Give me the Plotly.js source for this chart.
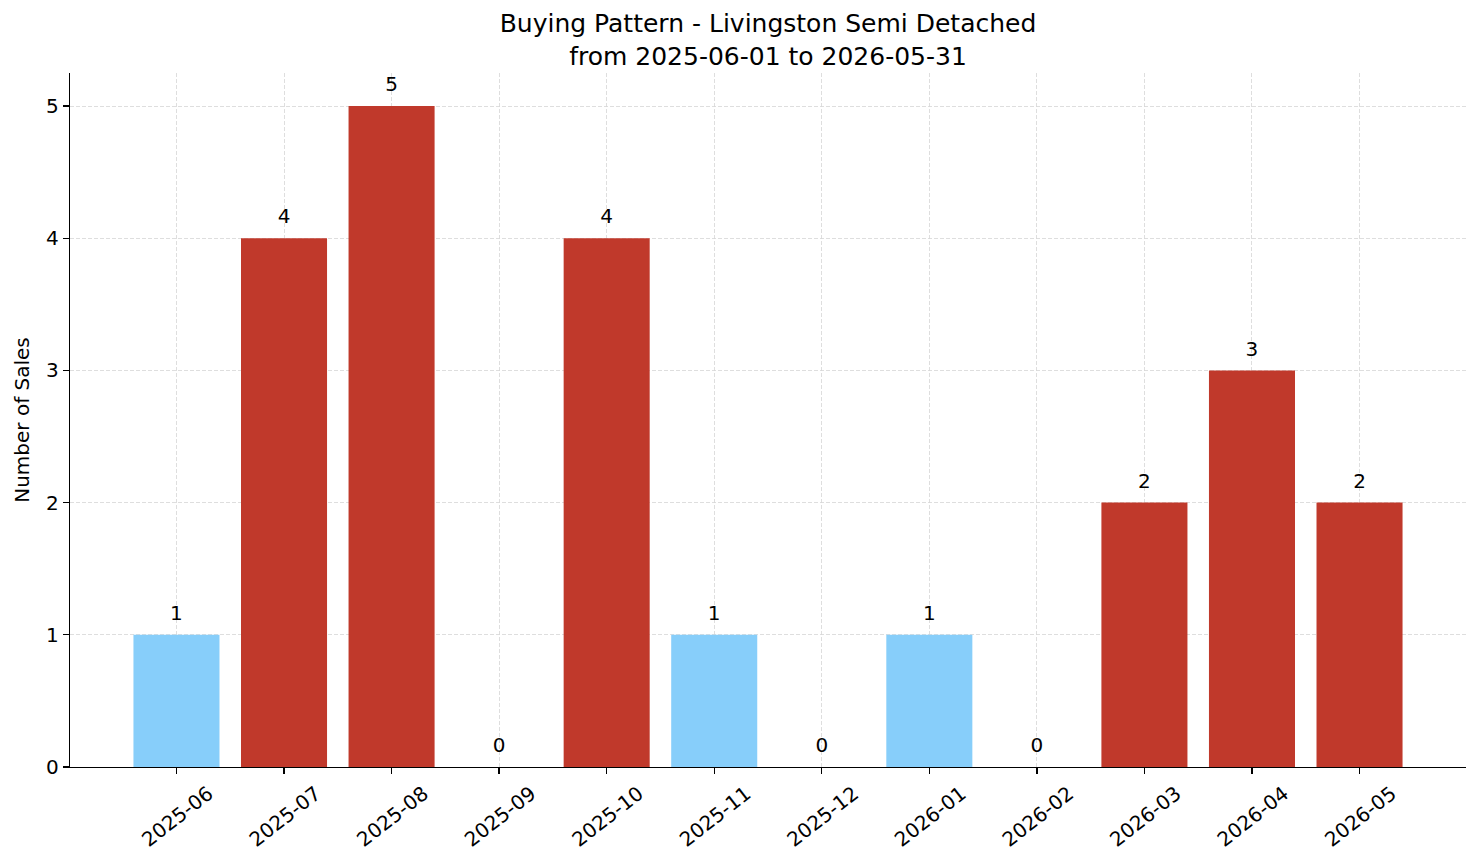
<!DOCTYPE html>
<html>
<head>
<meta charset="utf-8">
<script src="https://cdn.plot.ly/plotly-3.0.1.min.js"></script>
<style>html,body{margin:0;padding:0;background:#fff;}#chart{width:1481px;height:863px;}</style>
</head>
<body>
<div id="chart"></div>
<script>
const months = ["2025-06","2025-07","2025-08","2025-09","2025-10","2025-11","2025-12","2026-01","2026-02","2026-03","2026-04","2026-05"];
const sales = [1,4,5,0,4,1,0,1,0,2,3,2];
const lowColor = "#87CEFA";
const highColor = "#C0392B";
const barColors = sales.map(v => v >= 2 ? highColor : lowColor);

const font = "DejaVu Sans, sans-serif";

const bars = {
  type: "bar",
  x: months,
  y: sales,
  width: 0.8,
  marker: {color: barColors, line: {width: 0}},
  hoverinfo: "x+y",
  showlegend: false
};
const labels = {
  type: "scatter",
  mode: "markers+text",
  x: months,
  y: sales,
  text: sales.map(String),
  textposition: "top center",
  marker: {size: 14, opacity: 0},
  textfont: {family: font, size: 20, color: "#000"},
  cliponaxis: false,
  hoverinfo: "skip",
  showlegend: false
};

const layout = {
  width: 1481,
  height: 863,
  margin: {l: 70, r: 15, t: 73, b: 96},
  paper_bgcolor: "#fff",
  plot_bgcolor: "#fff",
  font: {family: font, size: 20, color: "#000"},
  title: {
    text: "Buying Pattern - Livingston Semi Detached<br>from 2025-06-01 to 2026-05-31",
    font: {family: font, size: 25, color: "#000"},
    x: 0.5, xref: "paper", xanchor: "center",
    yref: "container", y: 1 - 32/863, yanchor: "middle"
  },
  xaxis: {
    type: "category",
    range: [-0.99, 11.99],
    showline: true, linecolor: "#000", linewidth: 1.3,
    ticks: "outside", ticklen: 6, tickwidth: 1.3, tickcolor: "#000",
    tickangle: -38,
    ticklabelshift: 32,
    tickfont: {family: font, size: 20, color: "#000"},
    showgrid: true, gridcolor: "#d6d6d6", gridwidth: 0.8, griddash: "4px,2px",
    zeroline: false,
    layer: "above traces",
    fixedrange: true
  },
  yaxis: {
    range: [0, 5.25],
    tickvals: [0,1,2,3,4,5],
    showline: true, linecolor: "#000", linewidth: 1.3,
    ticks: "outside", ticklen: 6, tickwidth: 1.3, tickcolor: "#000",
    tickfont: {family: font, size: 20, color: "#000"},
    showgrid: true, gridcolor: "#d6d6d6", gridwidth: 0.8, griddash: "4px,2px",
    zeroline: false,
    layer: "above traces",
    title: {text: "Number of Sales", font: {family: font, size: 20, color: "#000"}, standoff: 11},
    fixedrange: true
  },
  bargap: 0.2
};

Plotly.newPlot("chart", [bars, labels], layout, {displayModeBar: false, staticPlot: true});
</script>
</body>
</html>
